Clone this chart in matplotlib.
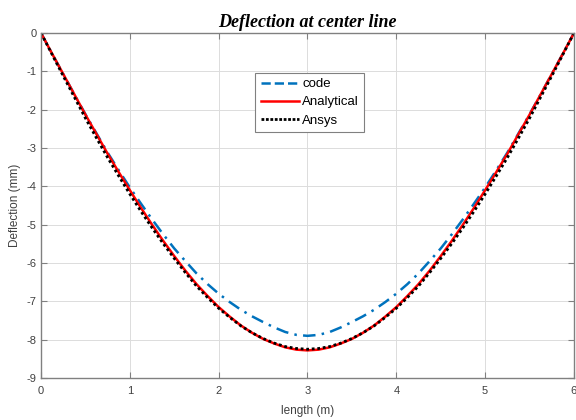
import matplotlib
matplotlib.use("Agg")
import matplotlib.pyplot as plt
from matplotlib.lines import Line2D

# Data (length in m, deflection in mm)
x = [0.0, 0.125, 0.25, 0.375, 0.5, 0.625, 0.75, 0.875, 1.0, 1.125, 1.25, 1.375,
     1.5, 1.625, 1.75, 1.875, 2.0, 2.125, 2.25, 2.375, 2.5, 2.625, 2.75, 2.875,
     3.0, 3.125, 3.25, 3.375, 3.5, 3.625, 3.75, 3.875, 4.0, 4.125, 4.25, 4.375,
     4.5, 4.625, 4.75, 4.875, 5.0, 5.125, 5.25, 5.375, 5.5, 5.625, 5.75, 5.875, 6.0]
code = [0, -0.54, -1.07, -1.60, -2.12, -2.62, -3.12, -3.58, -4.03, -4.45, -4.86, -5.25,
        -5.62, -5.95, -6.27, -6.55, -6.80, -7.02, -7.22, -7.39, -7.54, -7.68, -7.80, -7.875,
        -7.90, -7.875, -7.80, -7.68, -7.54, -7.39, -7.22, -7.02, -6.80, -6.55, -6.27, -5.95,
        -5.62, -5.25, -4.86, -4.45, -4.03, -3.58, -3.12, -2.62, -2.12, -1.60, -1.07, -0.54, 0]
analytical = [0, -0.54, -1.07, -1.60, -2.13, -2.64, -3.15, -3.63, -4.10, -4.56, -5.00, -5.42,
              -5.82, -6.20, -6.55, -6.86, -7.15, -7.40, -7.63, -7.82, -7.98, -8.10, -8.20, -8.26,
              -8.28, -8.26, -8.20, -8.10, -7.98, -7.82, -7.63, -7.40, -7.15, -6.86, -6.55, -6.20,
              -5.82, -5.42, -5.00, -4.56, -4.10, -3.63, -3.15, -2.64, -2.13, -1.60, -1.07, -0.54, 0]
ansys = [0, -0.56, -1.12, -1.67, -2.22, -2.74, -3.25, -3.73, -4.20, -4.65, -5.08, -5.49,
         -5.88, -6.25, -6.60, -6.90, -7.18, -7.42, -7.64, -7.82, -7.97, -8.09, -8.18, -8.23,
         -8.25, -8.23, -8.18, -8.09, -7.97, -7.82, -7.64, -7.42, -7.18, -6.90, -6.60, -6.25,
         -5.88, -5.49, -5.08, -4.65, -4.20, -3.73, -3.25, -2.74, -2.22, -1.67, -1.12, -0.56, 0]

xticks = [0, 1, 2, 3, 4, 5, 6]
yticks = [0, -1, -2, -3, -4, -5, -6, -7, -8, -9]

plt.rcParams['font.family'] = ['Liberation Sans', 'DejaVu Sans']
plt.rcParams['axes.unicode_minus'] = False

fig = plt.figure(figsize=(5.76, 4.2), dpi=100)
ax = fig.add_axes([0.0712, 0.1, 0.9253, 0.8214])

blue = '#0072BD'
ax.plot(x, code, color=blue, lw=1.8, linestyle=(0, (5, 2.5, 1, 2.5)))
ax.plot(x, analytical, color='#FF0000', lw=1.8)
ax.plot(x, ansys, color='black', lw=2.0, linestyle=(0, (1, 1)))

ax.set_xlim(0, 6)
ax.set_ylim(-9, 0)
ax.set_xticks(xticks)
ax.set_yticks(yticks)
ax.grid(True, color='#DCDCDC', lw=0.7)
ax.set_axisbelow(True)

gray = '#404040'
for s in ax.spines.values():
    s.set_color('#808080')
    s.set_linewidth(1.0)
ax.tick_params(direction='in', top=True, right=True, length=4, width=0.8,
               colors='#808080', labelcolor=gray, labelsize=8, pad=3)
ax.tick_params(axis='x', pad=6)

ax.set_title('Deflection at center line', family=['Liberation Serif', 'DejaVu Serif'],
             fontstyle='italic', fontweight='bold', fontsize=13, color='black', pad=4)
ax.set_xlabel('length (m)', fontsize=8.5, color=gray, labelpad=6)
ax.set_ylabel('Deflection (mm)', fontsize=8.5, color=gray, labelpad=4)

handles = [Line2D([], [], color=blue, lw=1.8, linestyle='--'),
           Line2D([], [], color='#FF0000', lw=1.8),
           Line2D([], [], color='black', lw=2.0, linestyle=(0, (1, 0.6)))]
leg = ax.legend(handles, ['code', 'Analytical', 'Ansys'], loc='upper left',
                bbox_to_anchor=(0.402, 0.885), fontsize=9.5, frameon=True, fancybox=False,
                edgecolor='#808080', framealpha=1, handlelength=2.9, handletextpad=0.25,
                labelspacing=0.45, borderpad=0.4, borderaxespad=0)
leg.get_frame().set_linewidth(0.8)

fig.savefig('out.png', dpi=100)
